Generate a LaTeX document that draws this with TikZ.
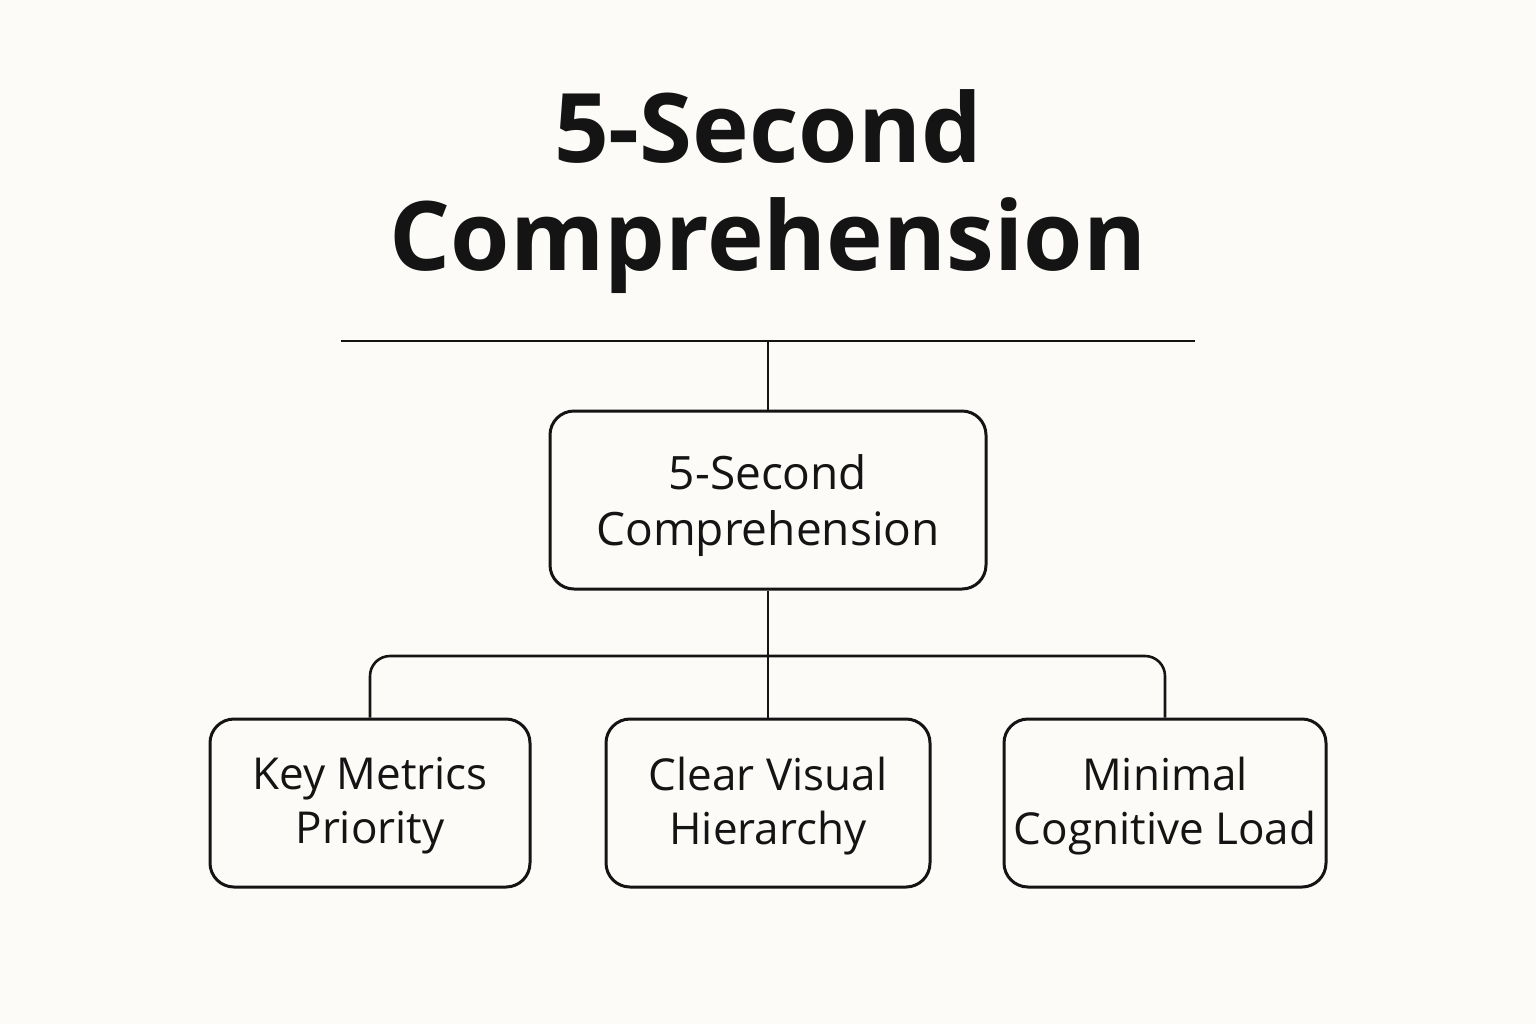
\documentclass[tikz,border=0pt]{standalone}
\usepackage{fontspec}
\setmainfont{Open Sans}
\usepackage{xcolor}
\usetikzlibrary{positioning,calc}
\definecolor{paper}{RGB}{252,251,248}
\definecolor{ink}{RGB}{20,20,20}
\tikzset{
  box/.style={rectangle, rounded corners=12pt, draw=ink, line width=1.5pt, align=center, font=\fontsize{22}{27}\selectfont, text=ink},
  link/.style={draw=ink, line width=1.3pt},
  title/.style={align=center, font=\fontsize{48}{54}\selectfont\bfseries, text=ink}
}
\begin{document}
\begin{tikzpicture}[x=0.5pt, y=-0.5pt]
  \useasboundingbox[fill=paper] (0,0) rectangle (1536,1024);
  % heading
  \node[title] (head) at (768,192) {5-Second\\Comprehension};
  \coordinate (ruleL) at (341,341);
  \coordinate (ruleR) at (1195,341);
  \coordinate (ruleM) at (768,341);
  \draw[link] (ruleL) -- (ruleR);

  % main box
  \node[box, minimum width=218pt, minimum height=89pt] (main) at (768,500) {};
  \node[box, draw=none, font=\fontsize{23}{28}\selectfont] (mainlbl) at (768,506) {5-Second\\Comprehension};
  \draw[link] (ruleM) -- (main.north);

  % leaves
  \node[box, minimum width=160pt, minimum height=84pt] (key) at (370,803) {};
  \node[box, minimum width=162pt, minimum height=84pt] (clear) at (768,803) {};
  \node[box, minimum width=161pt, minimum height=84pt] (minl) at (1165,803) {};
  \node[box, draw=none] at (370,806) {Key Metrics\\Priority};
  \node[box, draw=none] at (768,806) {Clear Visual\\Hierarchy};
  \node[box, draw=none] at (1165,806) {Minimal\\Cognitive Load};

  \coordinate (bar) at (768,656);
  \draw[link] (main.south) -- (clear.north);
  \draw[link, rounded corners=10pt] (key.north) |- (bar) -| (minl.north);
\end{tikzpicture}
\end{document}
